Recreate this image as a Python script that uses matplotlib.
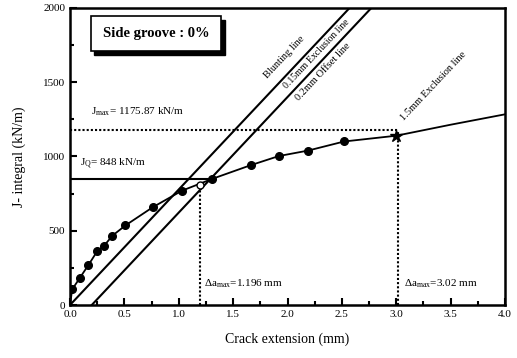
import matplotlib
matplotlib.use("Agg")
import matplotlib.pyplot as plt
from matplotlib.ticker import MultipleLocator

plt.rcParams['font.family'] = ['Liberation Serif', 'DejaVu Serif']
plt.rcParams['mathtext.fontset'] = 'custom'
plt.rcParams['mathtext.rm'] = 'Liberation Serif'
plt.rcParams['mathtext.it'] = 'Liberation Serif'

# Measured J-R data
crack_ext = [0.02, 0.09, 0.17, 0.25, 0.31, 0.39, 0.51, 0.76, 1.03, 1.31, 1.66, 1.92, 2.19, 2.52]
j_integral = [105, 182, 270, 362, 396, 467, 536, 658, 770, 850, 941, 1003, 1040, 1101]
# Last point (at 1.5mm exclusion)
last_x = [3.0]
last_y = [1140]
# Fitted curve through points and beyond
curve_x = [0.0] + crack_ext + last_x + [3.5, 4.0]
curve_y = [0] + j_integral + last_y + [1214, 1284]

# Construction lines
blunt_slope = 778          # kN/m per mm
offset_intercept = 0.2     # mm
J_Q = 848
J_max = 1175.87
da_Q = 1.196
da_max = 3.02
Q_open_x = [1.196]
Q_open_y = [805]

fig = plt.figure(figsize=(5.17, 3.58), dpi=100)
ax = fig.add_axes([0.1354, 0.148, 0.8414, 0.8297])
ax.set_xlim(0, 4.0)
ax.set_ylim(0, 2000)

# blunting line and offset line
bx = [0, 2000 / blunt_slope]
ax.plot(bx, [0, 2000], color='black', lw=1.5)
ox = [offset_intercept, offset_intercept + 2000 / blunt_slope]
ax.plot(ox, [0, 2000], color='black', lw=1.5)

# J_Q and J_max lines
ax.plot([0, 1.31], [J_Q, J_Q], color='black', lw=1.5)
ax.plot([0, da_max], [J_max, J_max], color='black', lw=1.5, ls=(0, (1, 1)))
ax.plot([da_Q, da_Q], [0, 770], color='black', lw=1.5, ls=(0, (1, 1)))
ax.plot([da_max, da_max], [0, J_max], color='black', lw=1.5, ls=(0, (1, 1)))

# curve
ax.plot(curve_x, curve_y, color='black', lw=1.3)
ax.plot(crack_ext, j_integral, 'o', color='black', ms=5.5)
ax.plot(last_x, last_y, '*', color='black', ms=9)
ax.plot(Q_open_x, Q_open_y, 'o', mfc='white', mec='black', ms=5, mew=1)

# labels on lines
rot = 46.7
kw = dict(rotation=rot, ha='center', va='center', fontsize=7.5, rotation_mode='anchor')
ax.text(1.97, 1669, 'Blunting line', **kw)
ax.text(2.27, 1689, '0.15mm Exclusion line', rotation=rot, ha='center', va='center',
        fontsize=7, rotation_mode='anchor')
ax.text(2.33, 1568, '0.2mm Offset line', **kw)
ax.text(3.34, 1473, '1.5mm Exclusion line', **kw)

ax.text(0.19, 1300, r'J$_{max}$= 1175.87 kN/m', fontsize=8, va='center')
ax.text(0.09, 950, r'J$_{Q}$= 848 kN/m', fontsize=8, va='center')
ax.text(1.23, 140, r'$\Delta$a$_{max}$=1.196 mm', fontsize=8, va='center')
ax.text(3.07, 140, r'$\Delta$a$_{max}$=3.02 mm', fontsize=8, va='center')

# side groove box with shadow
ax.add_patch(plt.Rectangle((0.225, 1683), 1.2, 237, facecolor='black', edgecolor='black', zorder=4))
ax.add_patch(plt.Rectangle((0.19, 1709), 1.2, 237, facecolor='white', edgecolor='black', lw=1.2, zorder=5))
ax.text(0.79, 1828, 'Side groove : 0%', fontsize=10.5, fontweight='bold', ha='center', va='center', zorder=6)

ax.xaxis.set_major_locator(MultipleLocator(0.5))
ax.xaxis.set_minor_locator(MultipleLocator(0.25))
ax.yaxis.set_major_locator(MultipleLocator(500))
ax.yaxis.set_minor_locator(MultipleLocator(250))
ax.tick_params(which='both', direction='in', width=1.5, labelsize=8)
ax.tick_params(which='major', length=5)
ax.tick_params(which='minor', length=3)
ax.set_xticks([0, 0.5, 1.0, 1.5, 2.0, 2.5, 3.0, 3.5, 4.0])
ax.set_xticklabels([f'{v:.1f}' for v in [0, 0.5, 1.0, 1.5, 2.0, 2.5, 3.0, 3.5, 4.0]])
for s in ax.spines.values():
    s.set_linewidth(1.8)

ax.set_xlabel('Crack extension (mm)', fontsize=10, labelpad=10)
ax.set_ylabel('J- integral (kN/m)', fontsize=10, labelpad=12)

fig.savefig('out.png', dpi=100)
